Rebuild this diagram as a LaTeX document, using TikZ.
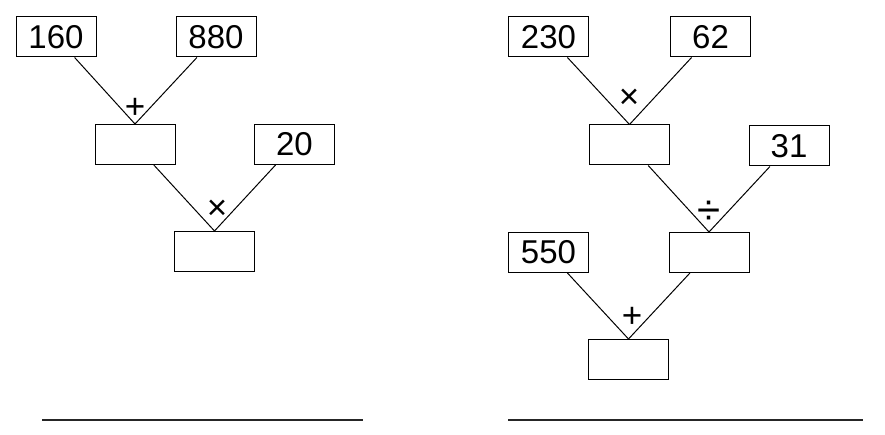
\documentclass[tikz,border=0pt]{standalone}
\usepackage{fontspec}
\setmainfont{Liberation Sans}
\begin{document}
\begin{tikzpicture}[x=1pt,y=-1pt,
  numbox/.style={draw=black, line width=1pt, rectangle, minimum width=80pt, minimum height=40pt, inner sep=0pt, font=\fontsize{33}{38}\selectfont},
  opsym/.style={inner sep=0pt, font=\fontsize{35}{40}\selectfont},
  conn/.style={draw=black, line width=1pt},
  rule/.style={draw=black!85, line width=1.4pt}]
\useasboundingbox (0,0) rectangle (885,435);
% left tree
\node[numbox] (a160) at (56,37) {160};
\node[numbox] (a880) at (216,37) {880};
\node[numbox] (m1) at (135,144.5) {};
\node[numbox] (a20) at (294.5,144.5) {20};
\node[numbox] (r1) at (214.5,251.5) {};
\draw[conn] (a160) -- (m1.north);
\draw[conn] (a880) -- (m1.north);
\draw[conn] (m1) -- (r1.north);
\draw[conn] (a20) -- (r1.north);
\node[opsym] (op1) at (135,108) {+};
\node[opsym] (op2) at (217,210) {×};
% right tree
\node[numbox] (b230) at (548.5,37) {230};
\node[numbox] (b62) at (710.5,37) {62};
\node[numbox] (m2) at (629.5,145) {};
\node[numbox] (b31) at (789,146) {31};
\node[numbox] (b550) at (548.5,252.5) {550};
\node[numbox] (m3) at (709,252.5) {};
\node[numbox] (r2) at (628.5,359.5) {};
\draw[conn] (b230) -- (m2.north);
\draw[conn] (b62) -- (m2.north);
\draw[conn] (m2) -- (m3.north);
\draw[conn] (b31) -- (m3.north);
\draw[conn] (b550) -- (r2.north);
\draw[conn] (m3) -- (r2.north);
\node[opsym] (op3) at (629,99) {×};
\node[opsym, font=\fontsize{42}{46}\selectfont] (op4) at (709,213) {÷};
\node[opsym] (op5) at (632,317) {+};
% answer lines
\coordinate (l1a) at (42,420);
\coordinate (l1b) at (363,420);
\coordinate (l2a) at (508,420);
\coordinate (l2b) at (863,420);
\draw[rule] (l1a) -- (l1b);
\draw[rule] (l2a) -- (l2b);
\end{tikzpicture}
\end{document}
